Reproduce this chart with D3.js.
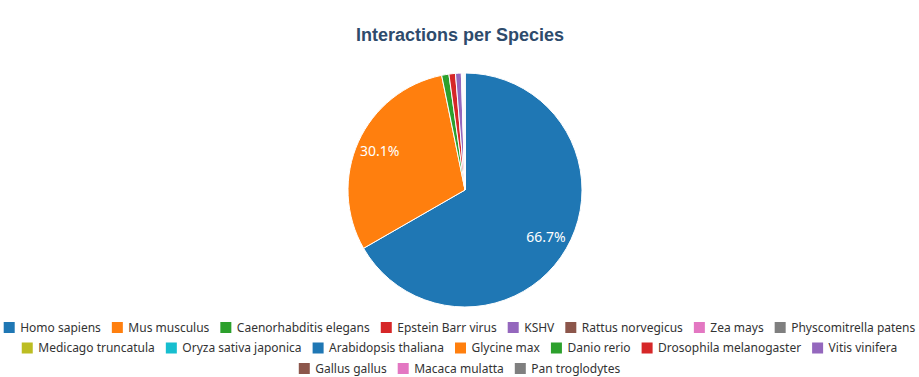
<!DOCTYPE html>
<html>
<head>
<meta charset="utf-8">
<title>Interactions per Species</title>
<script src="https://d3js.org/d3.v7.min.js"></script>
<style>
  body { margin: 0; background: #fff; }
  svg { display: block; }
</style>
</head>
<body>
<div id="chart"></div>
<script>
// species and interaction counts
var species = [
    "Homo sapiens", "Mus musculus", "Caenorhabditis elegans", "Epstein Barr virus",
    "KSHV", "Rattus norvegicus", "Zea mays", "Physcomitrella patens",
    "Medicago truncatula", "Oryza sativa japonica", "Arabidopsis thaliana",
    "Glycine max", "Danio rerio", "Drosophila melanogaster", "Vitis vinifera",
    "Gallus gallus", "Macaca mulatta", "Pan troglodytes"
];
var counts = [6670, 3010, 100, 90, 80, 8, 6, 5, 4, 4, 4, 3, 3, 3, 3, 3, 2, 2];

var width = 919, height = 377;
var cx = 465, cy = 190, radius = 117;

var data = species.map(function(s, i) { return { label: s, value: counts[i] }; });
var total = d3.sum(counts);

var color = d3.scaleOrdinal()
    .domain(species)
    .range(d3.schemeCategory10);

var svg = d3.select("#chart")
    .append("svg")
    .attr("width", width)
    .attr("height", height);

// title
svg.append("text")
    .attr("x", 460)
    .attr("y", 41)
    .attr("text-anchor", "middle")
    .style("font-family", "'Liberation Sans', Arial, sans-serif")
    .style("font-size", "18px")
    .style("font-weight", "bold")
    .style("fill", "#2e4b6c")
    .text("Interactions per Species");

// pie
var pie = d3.pie()
    .sort(null)
    .value(function(d) { return d.value; });

var arc = d3.arc()
    .innerRadius(0)
    .outerRadius(radius);

var labelArc = d3.arc()
    .innerRadius(radius * 0.8)
    .outerRadius(radius * 0.8);

var g = svg.append("g")
    .attr("transform", "translate(" + cx + "," + cy + ")");

var slices = g.selectAll(".arc")
    .data(pie(data))
    .enter()
    .append("g")
    .attr("class", "arc");

slices.append("path")
    .attr("d", arc)
    .style("fill", function(d) { return color(d.data.label); })
    .style("stroke", "#fff")
    .style("stroke-width", 1);

slices.filter(function(d) { return d.data.value / total > 0.05; })
    .append("text")
    .attr("transform", function(d) { return "translate(" + labelArc.centroid(d) + ")"; })
    .attr("dy", ".35em")
    .attr("text-anchor", "middle")
    .style("font-family", "'Noto Sans', 'Open Sans', sans-serif")
    .style("font-size", "14px")
    .style("fill", "#fff")
    .text(function(d) { return (d.data.value / total * 100).toFixed(1) + "%"; });

// legend, wrapped in centred rows
var legend = svg.append("g").attr("class", "legend");
var box = 11, pad = 5.5, gap = 11, maxW = 915, rowH = 20.5, legendTop = 327.5;

var items = legend.selectAll(".item")
    .data(species)
    .enter()
    .append("g")
    .attr("class", "item");

items.append("rect")
    .attr("width", box)
    .attr("height", box)
    .attr("y", -box / 2)
    .style("fill", function(d) { return color(d); });

items.append("text")
    .attr("x", box + pad)
    .attr("dy", ".35em")
    .style("font-family", "'Noto Sans', 'Open Sans', sans-serif")
    .style("font-size", "12px")
    .style("fill", "#333")
    .text(function(d) { return d; });

var rows = [[]], rowWidth = [0];
items.each(function() {
    var w = box + pad + this.querySelector("text").getComputedTextLength();
    var r = rows.length - 1;
    var need = rowWidth[r] ? rowWidth[r] + gap + w : w;
    if (need > maxW && rows[r].length) {
        rows.push([]);
        rowWidth.push(0);
        r++;
        need = w;
    }
    rows[r].push({ node: this, w: w });
    rowWidth[r] = need;
});

rows.forEach(function(row, r) {
    var x = (width - rowWidth[r]) / 2;
    row.forEach(function(it) {
        d3.select(it.node).attr("transform", "translate(" + x + "," + (legendTop + r * rowH) + ")");
        x += it.w + gap;
    });
});
</script>
</body>
</html>
